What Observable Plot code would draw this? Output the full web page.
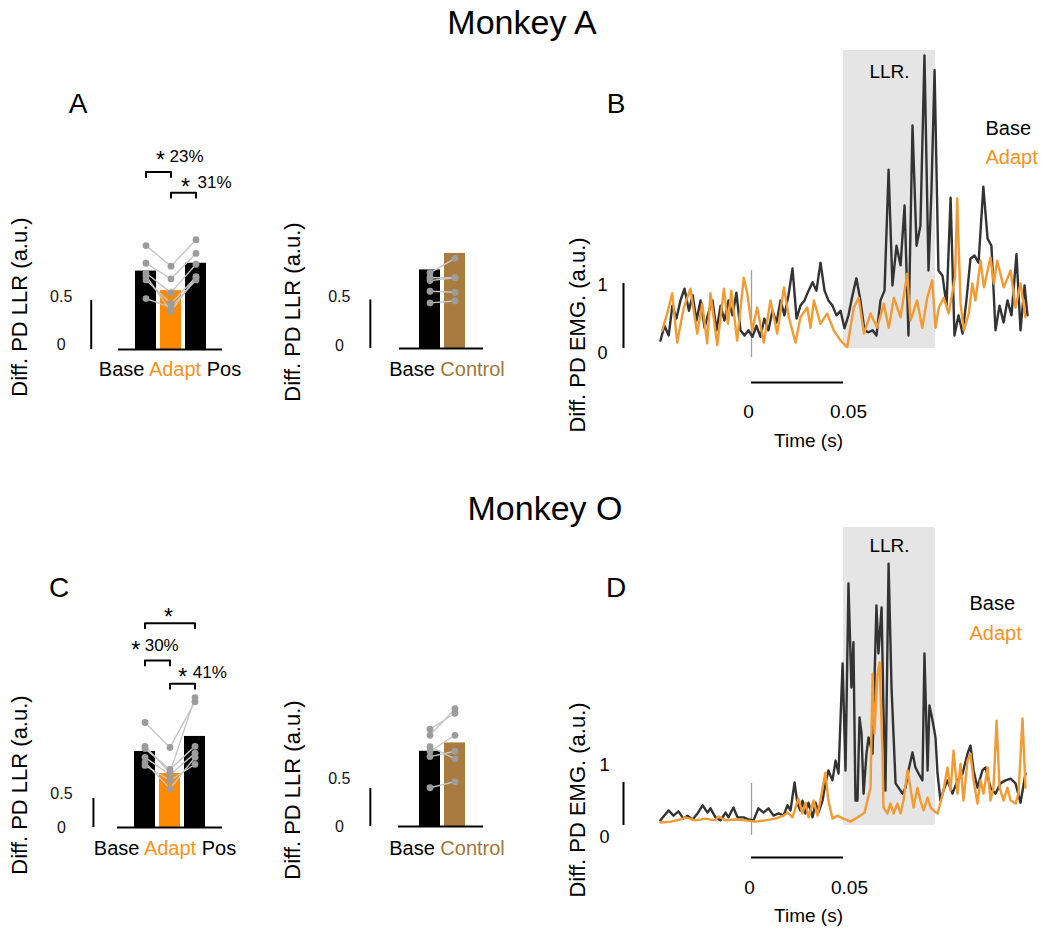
<!DOCTYPE html>
<html><head><meta charset="utf-8">
<script src="https://cdn.jsdelivr.net/npm/d3@7"></script>
<script src="https://cdn.jsdelivr.net/npm/@observablehq/plot@0.6"></script>
<style>
body{margin:0;background:#fff;font-family:"Liberation Sans",Arial,sans-serif;}
#fig{position:relative;width:1042px;height:928px;overflow:hidden;background:#fff;}
.t{position:absolute;white-space:nowrap;color:#000;line-height:1;transform:translate(-50%,-50%);}
.rot{transform:translate(-50%,-50%) rotate(-90deg);}
</style></head><body><div id="fig"></div>
<script>
// ---------------- DATA ----------------
const mainCategories = ["Base", "Adapt", "Pos"];
const controlCategories = ["Base", "Control"];
const llrScaleTicks = [0, 0.5];
const emgScaleTicks = [0, 1];
const timeTicks = [0, 0.05];          // seconds
const timeDomain = [-50, 150];        // ms
const llrWindow = [50, 100];          // ms
const legendEntries = ["Base", "Adapt"];

// Monkey A – LLR bars
const aMainMeans = [0.80, 0.60, 0.88];
const aMainSessions = [[1.06,0.85,1.12],[0.88,0.72,0.98],[0.78,0.58,0.87],[0.71,0.47,0.74],[0.52,0.43,0.71],[0.75,0.39,0.74]];
const aMainBrackets = [{from:"Base", to:"Adapt", level:1.81, pct:"23%"}, {from:"Adapt", to:"Pos", level:1.60, pct:"31%"}];
const aCtrlMeans = [0.81, 0.98];
const aCtrlSessions = [[0.78,0.93],[0.73,0.73],[0.70,0.73],[0.59,0.58],[0.47,0.49]];

// Monkey O – LLR bars
const oMainMeans = [1.31, 0.93, 1.57];
const oMainSessions = [[1.81,1.38,2.17],[1.40,0.95,2.24],[1.36,1.00,1.40],[1.21,0.91,1.28],[1.12,0.67,1.21],[1.07,0.81,1.09]];
const oMainBrackets = [{from:"Base", to:"Pos", level:3.52, pct:""}, {from:"Base", to:"Adapt", level:2.88, pct:"30%"}, {from:"Adapt", to:"Pos", level:2.48, pct:"41%"}];
const oCtrlMeans = [0.99, 1.10];
const oCtrlSessions = [[1.28,1.49],[1.20,1.55],[1.05,0.89],[0.99,1.20],[0.92,0.99],[0.51,0.59]];

// EMG traces [time ms, a.u.]
const aBaseTrace = [[-49.5,0.12],[-47.3,0.35],[-45,0.2],[-43,0.66],[-40.8,0.46],[-38.6,0.74],[-36.4,0.92],[-34,0.58],[-32,0.82],[-29.9,0.43],[-27.7,0.74],[-25.5,0.32],[-23.4,0.55],[-21.2,0.74],[-19,0.28],[-16.8,0.66],[-14.7,0.43],[-12.5,0.74],[-10.3,0.51],[-8.2,0.86],[-6,0.28],[-3.8,0.2],[-1.6,0.28],[0.5,0.18],[2.7,0.35],[4.9,0.18],[7,0.46],[9.2,0.28],[11.4,0.58],[13.6,0.4],[15.8,0.74],[17.9,0.51],[20.1,0.82],[22.3,1.23],[24.5,0.46],[26.6,0.66],[28.8,0.74],[31,0.89],[33.2,1.02],[35.3,0.89],[37.5,1.32],[39.7,0.89],[41.8,0.74],[44,0.66],[46.2,0.51],[48.4,0.58],[50.5,0.31],[52.7,0.51],[54.9,0.82],[57,1.08],[59.2,0.74],[61.4,0.28],[63.6,0.25],[65.8,0.28],[67.9,0.2],[70.1,0.74],[72.3,0.89],[74.5,2.75],[76.6,0.97],[78.8,1.58],[81,1.28],[83.2,2.2],[85.3,0.2],[87.5,3.43],[89.7,1.58],[91.8,1.89],[94,4.51],[96.2,1.2],[97.8,2.43],[99.5,4.28],[101.6,1.2],[103.8,1.12],[106,0.66],[108.2,2.32],[110.3,0.2],[112.5,0.51],[114.7,0.23],[116.8,0.74],[119,1.38],[121.2,1.43],[123.4,1.32],[126,2.49],[128.3,1.69],[130.4,1.58],[132.6,0.28],[134.8,0.66],[137,0.4],[139.1,0.74],[141.3,0.51],[144,1.45],[146.2,0.28],[148.4,0.97],[150,0.51]];
const aAdaptTrace = [[-48.5,0.28],[-45.8,0.54],[-43.1,0.85],[-40.4,0.09],[-36.8,0.63],[-33.2,0.92],[-29.5,0.23],[-26.8,0.69],[-24.1,0.08],[-22.3,0.85],[-18.6,0.05],[-15,0.92],[-12.8,0.38],[-11,0.89],[-7.8,0.12],[-4.2,1.09],[-2.3,0.85],[0.4,0.28],[3.1,0.63],[6.7,0.09],[10.3,0.74],[14,0.23],[17.6,0.94],[20.3,0.48],[23.9,0.09],[26.6,0.48],[30.3,0.63],[32.1,0.32],[33.9,0.74],[37.5,0.38],[41.1,0.54],[44.7,0.28],[48.4,0.12],[52,0.02],[55.6,0.63],[58.3,0.78],[61.1,0.23],[64.7,0.54],[68.3,0.32],[71.9,0.69],[74.6,0.32],[77.4,0.78],[81,0.48],[84.6,1.15],[86.4,0.43],[90,0.74],[92.8,0.32],[95.5,0.78],[98.2,1.05],[100,0.32],[101.8,0.63],[104.5,0.78],[107.2,0.54],[110.6,1.1],[111.8,2.31],[113.6,0.69],[115.4,0.28],[118.1,0.54],[120,1.0],[121.7,0.74],[124.5,1.35],[126.3,0.94],[129.9,1.4],[131.7,1.0],[133.5,1.35],[137.1,0.94],[140.8,1.2],[143.5,0.63],[146.2,1.0],[148.9,0.48]];
const oBaseTrace = [[-49.5,0.12],[-45.1,0.35],[-42.4,0.23],[-39.7,0.33],[-37,0.16],[-34.8,0.23],[-32.1,0.14],[-29.3,0.28],[-26.6,0.47],[-23.9,0.3],[-22.3,0.4],[-19.6,0.19],[-16.8,0.12],[-14.1,0.3],[-12.5,0.19],[-9.8,0.42],[-7.6,0.19],[-4.3,0.19],[-1.6,0.14],[1.1,0.12],[3.8,0.4],[6.5,0.3],[9.2,0.4],[12,0.23],[14.7,0.28],[17.4,0.23],[19.6,0.47],[21.2,0.35],[23.4,1.0],[25,0.51],[26.6,0.35],[27.7,0.58],[29.3,0.28],[31,0.53],[33.2,0.19],[34.8,0.53],[36.4,0.3],[38.6,0.58],[40.2,0.98],[41.8,1.28],[44,1.05],[45.7,1.51],[47.3,1.21],[49.5,3.77],[51.1,1.28],[52.7,5.63],[54.3,3.21],[55.4,4.26],[56.5,0.58],[57.6,0.58],[58.7,2.51],[59.8,2.14],[60.9,0.74],[62.5,1.67],[63.6,2.05],[65.8,1.67],[67.9,5.12],[69,4.0],[70.7,5.07],[71.7,2.74],[72.8,0.81],[74.5,6.09],[76.1,3.21],[78.3,0.98],[79.9,0.88],[82.1,0.74],[83.7,0.88],[85.3,1.28],[87.5,1.7],[89.1,1.35],[90.8,1.21],[92.9,1.05],[94,4.0],[95.7,1.28],[96.7,2.79],[98.4,2.44],[100,2.05],[101.1,1.21],[102.7,0.58],[104.3,0.81],[106.5,1.05],[109.2,0.74],[112,1.05],[114.7,1.21],[117.4,1.67],[119,1.86],[120.7,1.28],[122.8,0.88],[125.5,1.28],[127.2,1.35],[129.9,0.88],[132.6,0.74],[135.3,0.98],[138,1.05],[140.8,1.09],[143.5,0.98],[146.2,0.53],[148.9,1.21]];
const oAdaptTrace = [[-49.5,0.07],[-44,0.09],[-38.6,0.14],[-35.9,0.19],[-30.4,0.12],[-25,0.16],[-19.6,0.12],[-17.9,0.21],[-14.1,0.12],[-8.7,0.14],[-3.3,0.12],[2.2,0.09],[7.6,0.12],[13,0.16],[17.4,0.23],[19.6,0.3],[22.3,0.19],[25.5,0.63],[27.7,0.28],[29.3,0.53],[31,0.19],[33.7,0.58],[35.9,0.23],[38.6,0.86],[40.2,1.23],[41.8,0.58],[44,0.16],[46.7,0.23],[50,0.16],[53.8,0.09],[56.5,0.16],[59.2,0.23],[61.4,0.3],[63,0.58],[64.7,0.88],[65.8,3.53],[66.8,2.14],[68.5,3.53],[69.6,3.79],[71.2,1.67],[71.7,0.42],[73.9,0.28],[75.5,0.51],[77.2,0.28],[79.3,0.51],[81,0.28],[82.6,0.58],[84.8,1.28],[86.4,0.88],[88,0.42],[90.2,0.88],[91.8,0.58],[93.5,0.35],[95.7,0.65],[97.3,0.42],[98.9,0.35],[101.1,0.28],[102.7,0.53],[104.3,0.81],[106.5,1.35],[108.2,0.81],[109.8,1.74],[112,0.74],[113.6,1.44],[115.2,0.58],[117.4,1.51],[119,1.67],[120.7,1.05],[122.8,0.51],[124.5,1.05],[126.1,0.74],[128.3,1.35],[129.9,0.58],[131.5,0.88],[133.2,2.44],[134.8,0.88],[137,0.58],[139.1,0.88],[140.8,0.58],[143.5,0.51],[145.1,0.74],[147.3,2.49],[148.9,0.88]];

// ---------------- STYLE / LAYOUT ----------------
const W = 1042, H = 928, PAD = 0.17;
const FONT = "'Liberation Sans',Arial,sans-serif";
const barColors = {Base:"#000000", Adapt:"#ff8a00", Pos:"#000000", Control:"#a87b3e"};
const textColors = {Base:"#000000", Adapt:"#f7931e", Pos:"#000000", Control:"#a0763a"};
const traceColors = {Base:"#333333", Adapt:"#f39a33"};
const fig = document.getElementById("fig");

function addPlot(opts) {
  const svg = Plot.plot({width: W, height: H,
    style: `position:absolute;left:0;top:0;background:none;overflow:visible;font-family:${FONT};`, ...opts});
  fig.appendChild(svg);
}
function addText(html, x, y, size, extraCls) {
  const d = document.createElement("div");
  d.className = "t" + (extraCls ? " " + extraCls : "");
  d.style.left = x + "px"; d.style.top = y + "px"; d.style.fontSize = size + "px";
  d.innerHTML = html;
  fig.appendChild(d);
}

function barPanel(cats, means, sessions, brackets, L, BL) {
  const bars = cats.map((c, i) => ({cat: c, v: means[i]}));
  const pts = sessions.flatMap((s, j) => s.map((v, i) => ({cat: cats[i], v, id: j})));
  const step = (L.bandR - L.bandL) / (cats.length - PAD);
  const c0 = L.bandL + step * (1 - PAD) / 2;
  const tickU = 5 / L.ppu;
  const brLines = brackets.flatMap((b, k) => [
    {cat: b.from, v: b.level - tickU, k}, {cat: b.from, v: b.level, k},
    {cat: b.to, v: b.level, k}, {cat: b.to, v: b.level - tickU, k}]);
  const half = b => (cats.indexOf(b.to) - cats.indexOf(b.from)) * step / 2;
  const marks = [
    Plot.barY(bars, {x: "cat", y: "v", fill: "cat"}),
    Plot.ruleY([0], {stroke: "#000", strokeWidth: 2}),
    Plot.line(pts, {x: "cat", y: "v", z: "id", stroke: "#c6c6c6", strokeWidth: 1.4}),
    Plot.dot(pts, {x: "cat", y: "v", r: 3.4, fill: "#9c9c9c"}),
    Plot.ruleX([llrScaleTicks], {x: () => cats[0], y1: d => d[0], y2: d => d[1], dx: L.sbX - c0, stroke: "#000", strokeWidth: 2}),
    Plot.line(brLines, {x: "cat", y: "v", z: "k", stroke: "#000", strokeWidth: 2})
  ];
  llrScaleTicks.forEach((t, i) => marks.push(Plot.text([t], {x: () => cats[0], y: d => d, text: d => String(d),
    dx: L.lblX - c0, dy: L.lblDy[i], fontSize: 16, fill: "#111"})));
  brackets.forEach((b, k) => {
    const lay = BL[k];
    marks.push(Plot.text([b], {x: "from", y: "level", text: () => "*", dx: half(b) + lay.starDx, dy: lay.dy + 5, fontSize: 23}));
    if (b.pct) marks.push(Plot.text([b], {x: "from", y: "level", text: "pct", dx: half(b) + lay.pctDx, dy: lay.dy,
      textAnchor: lay.anchor, fontSize: 17}));
  });
  addPlot({marginLeft: L.baseL, marginRight: W - L.baseR, marginTop: 0, marginBottom: H - L.y0,
    x: {type: "band", domain: cats, range: [L.bandL, L.bandR], paddingInner: PAD, paddingOuter: 0, axis: null},
    y: {domain: [0, 1], range: [L.y0, L.y0 - L.ppu], axis: null},
    color: {domain: cats, range: cats.map(c => barColors[c])},
    marks});
  addText(cats.map(c => `<span style="color:${textColors[c]}">${c}</span>`).join(" "), L.catX, L.catY, 20);
}

function emgPanel(base, adapt, L) {
  const marks = [
    Plot.rect([llrWindow], {x1: d => d[0], x2: d => d[1], fill: "#e5e5e5"}),
    Plot.ruleX([0], {y1: L.stim[0], y2: L.stim[1], stroke: "#a0a0a0", strokeWidth: 1.3}),
    Plot.line(base, {x: d => d[0], y: d => d[1], stroke: traceColors.Base, strokeWidth: 2.4, strokeLinejoin: "round"}),
    Plot.line(adapt, {x: d => d[0], y: d => d[1], stroke: traceColors.Adapt, strokeWidth: 2.4, strokeLinejoin: "round"}),
    Plot.text(["LLR."], {x: () => (llrWindow[0] + llrWindow[1]) / 2, frameAnchor: "top", lineAnchor: "middle", dy: L.llrDy, fontSize: 19}),
    Plot.ruleY([timeTicks], {x1: d => d[0] * 1000, x2: d => d[1] * 1000, y: () => 0, dy: L.tbDy, stroke: "#000", strokeWidth: 2}),
    Plot.text(["Time (s)"], {x: () => timeTicks[1] * 1000 / 2, y: () => 0, dy: L.ttDy, dx: 11, fontSize: 19}),
    Plot.ruleX([emgScaleTicks], {x: () => timeDomain[0], y1: d => d[0], y2: d => d[1], dx: L.sbDx, stroke: "#000", strokeWidth: 2})
  ];
  timeTicks.forEach((t, i) => marks.push(Plot.text([t], {x: d => d * 1000, y: () => 0, text: d => String(d),
    dx: L.tlDx[i], dy: L.tlDy, fontSize: 19})));
  emgScaleTicks.forEach((t, i) => marks.push(Plot.text([t], {x: () => timeDomain[0], y: d => d, text: d => String(d),
    dx: L.sbLblDx, dy: L.sbLblDy[i], fontSize: 18})));
  legendEntries.forEach((e, i) => marks.push(Plot.text([e], {frameAnchor: "top-left", lineAnchor: "middle", text: d => d, textAnchor: "start",
    dx: L.legX - L.x0, dy: L.legDy[i], fontSize: 20, fill: textColors[e]})));
  addPlot({marginLeft: L.x0, marginRight: W - L.x1, marginTop: L.top, marginBottom: H - L.y0,
    x: {domain: timeDomain, range: [L.x0, L.x1], axis: null},
    y: {domain: [0, 1], range: [L.y0, L.y0 - L.ppu], axis: null},
    marks});
}

// ---------------- PANELS ----------------
barPanel(mainCategories, aMainMeans, aMainSessions, aMainBrackets,
  {y0: 349, ppu: 98, baseL: 118, baseR: 222, bandL: 134, bandR: 207.5, sbX: 90, lblX: 60, lblDy: [-5, -4], catX: 170, catY: 369},
  [{starDx: 1.5, pctDx: 10.5, anchor: "start", dy: -16}, {starDx: 1.5, pctDx: 13.5, anchor: "start", dy: -10}]);
barPanel(controlCategories, aCtrlMeans, aCtrlSessions, [],
  {y0: 348, ppu: 97, baseL: 399, baseR: 483, bandL: 418, bandR: 465, sbX: 369, lblX: 338, lblDy: [-3, -3], catX: 447, catY: 369}, []);
barPanel(mainCategories, oMainMeans, oMainSessions, oMainBrackets,
  {y0: 827, ppu: 58, baseL: 117, baseR: 222, bandL: 133, bandR: 205, sbX: 92, lblX: 60, lblDy: [0, -5], catX: 165, catY: 848},
  [{starDx: -2, pctDx: 0, anchor: "middle", dy: -11}, {starDx: -22, pctDx: 4, anchor: "middle", dy: -15}, {starDx: 0, pctDx: 10, anchor: "start", dy: -11}]);
barPanel(controlCategories, oCtrlMeans, oCtrlSessions, [],
  {y0: 826, ppu: 76, baseL: 398, baseR: 483, bandL: 418, bandR: 465, sbX: 369, lblX: 338, lblDy: [0, -10], catX: 447, catY: 848}, []);

emgPanel(aBaseTrace, aAdaptTrace,
  {x0: 659, x1: 1027, y0: 348, ppu: 65, top: 50, stim: [-0.14, 1.2], llrDy: 21, tbDy: 34, tlDy: 63, tlDx: [-3, 5], ttDy: 92,
   sbDx: -36, sbLblDx: -57, sbLblDy: [5, 2], legX: 985, legDy: [78, 107]});
emgPanel(oBaseTrace, oAdaptTrace,
  {x0: 659, x1: 1027, y0: 825, ppu: 43, top: 527, stim: [-0.23, 0.98], llrDy: 18, tbDy: 32, tlDy: 62, tlDx: [-2, 6], ttDy: 90,
   sbDx: -36, sbLblDx: -55, sbLblDy: [12, -17], legX: 969, legDy: [76, 106]});

// ---------------- TEXT ----------------
addText("Monkey A", 522, 22, 34);
addText("Monkey O", 545, 508, 34);
addText("A", 78, 104, 28); addText("B", 616, 104, 28);
addText("C", 59, 588, 28); addText("D", 616, 588, 28);
addText("Diff. PD LLR (a.u.)", 20, 307, 22, "rot");
addText("Diff. PD LLR (a.u.)", 293, 312, 22, "rot");
addText("Diff. PD LLR (a.u.)", 20, 785, 22, "rot");
addText("Diff. PD LLR (a.u.)", 293, 790, 22, "rot");
addText("Diff. PD EMG. (a.u.)", 578, 335, 22, "rot");
addText("Diff. PD EMG. (a.u.)", 578, 800, 22, "rot");
</script></body></html>
